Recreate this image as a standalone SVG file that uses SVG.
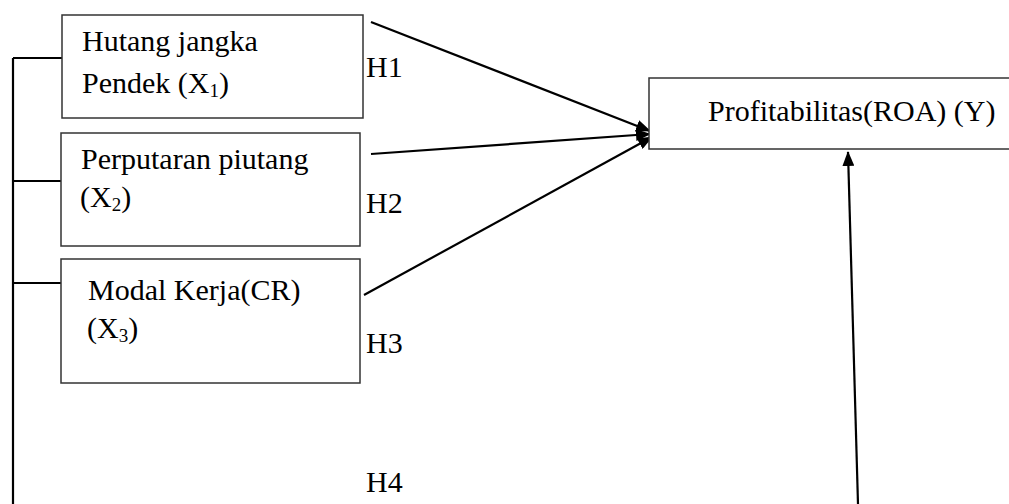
<svg xmlns="http://www.w3.org/2000/svg" width="1009" height="504" viewBox="0 0 1009 504">
<style>
.box{fill:#fff;stroke:#333;stroke-width:1.5}
.t{font-family:"Liberation Serif","Times New Roman",serif;font-size:30px;fill:#000}
.sub{font-size:19px}
.c{stroke:#000;stroke-width:2.2;fill:none}
</style>
<defs>
<marker id="ah" viewBox="0 0 15 12" refX="14" refY="6" markerWidth="15" markerHeight="12" markerUnits="userSpaceOnUse" orient="auto">
<path d="M0,0 L15,6 L0,12 z" fill="#000"/>
</marker>
</defs>
<rect width="1009" height="504" fill="#fff"/>
<g id="connectors">
<path class="c" d="M13,58 V504"/>
<path class="c" d="M13,58 H62"/>
<path class="c" d="M13,181 H61"/>
<path class="c" d="M13,283 H61"/>
<line class="c" x1="371" y1="22" x2="650" y2="131" marker-end="url(#ah)"/>
<line class="c" x1="371" y1="154" x2="650" y2="134" marker-end="url(#ah)"/>
<line class="c" x1="364" y1="295" x2="652" y2="137" marker-end="url(#ah)"/>
<line class="c" x1="858" y1="504" x2="848" y2="152" marker-end="url(#ah)"/>
</g>
<g id="x1">
<rect class="box" x="62" y="15" width="301" height="103"/>
<text class="t" x="82" y="51">Hutang jangka</text>
<text class="t" x="82" y="93">Pendek (X<tspan class="sub" dy="4">1</tspan><tspan dy="-4">)</tspan></text>
</g>
<g id="x2">
<rect class="box" x="61" y="133" width="299" height="113"/>
<text class="t" x="81" y="169">Perputaran piutang</text>
<text class="t" x="80" y="207">(X<tspan class="sub" dy="4">2</tspan><tspan dy="-4">)</tspan></text>
</g>
<g id="x3">
<rect class="box" x="61" y="259" width="299" height="124"/>
<text class="t" x="88" y="300">Modal Kerja(CR)</text>
<text class="t" x="87" y="338">(X<tspan class="sub" dy="4">3</tspan><tspan dy="-4">)</tspan></text>
</g>
<g id="y">
<rect class="box" x="649" y="78" width="370" height="71"/>
<text class="t" x="708" y="121">Profitabilitas(ROA) (Y)</text>
</g>
<g id="labels">
<text class="t" x="366" y="77">H1</text>
<text class="t" x="366" y="213">H2</text>
<text class="t" x="366" y="353">H3</text>
<text class="t" x="366" y="492">H4</text>
</g>
</svg>
